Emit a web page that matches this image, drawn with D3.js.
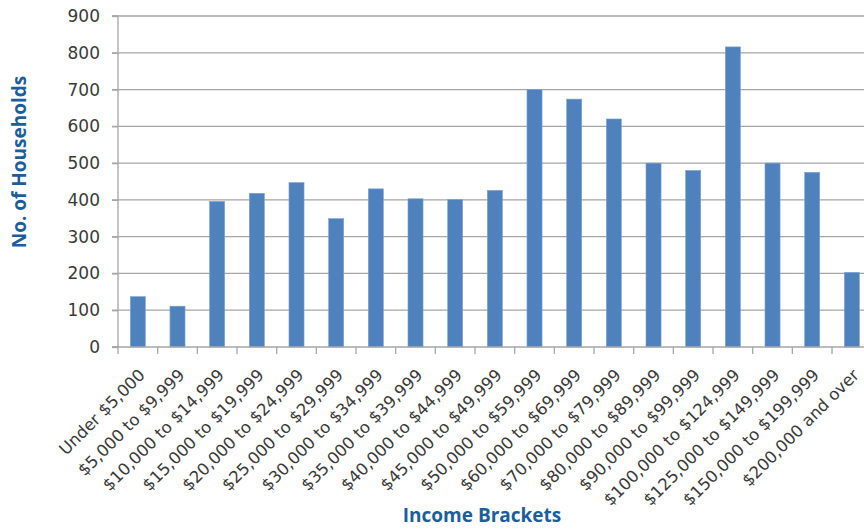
<!DOCTYPE html>
<html>
<head>
<meta charset="utf-8">
<script src="https://cdn.jsdelivr.net/npm/d3@7"></script>
<style>
  html, body { margin: 0; padding: 0; background: #fff; }
  svg { display: block; }
</style>
</head>
<body>
<svg id="chart" width="864" height="529"></svg>
<script>
const categories = [
  "Under $5,000", "$5,000 to $9,999", "$10,000 to $14,999", "$15,000 to $19,999",
  "$20,000 to $24,999", "$25,000 to $29,999", "$30,000 to $34,999", "$35,000 to $39,999",
  "$40,000 to $44,999", "$45,000 to $49,999", "$50,000 to $59,999", "$60,000 to $69,999",
  "$70,000 to $79,999", "$80,000 to $89,999", "$90,000 to $99,999", "$100,000 to $124,999",
  "$125,000 to $149,999", "$150,000 to $199,999", "$200,000 and over"
];
const households = [137, 111, 396, 418, 447, 349, 430, 403, 401, 426, 700, 674, 620, 500, 480, 816, 500, 475, 203];
const yTicks = [0, 100, 200, 300, 400, 500, 600, 700, 800, 900];
const xTitle = "Income Brackets";
const yTitle = "No. of Households";

(function () {
const svg = d3.select("#chart");
const pLeft = 118, pRight = 871.7, pTop = 16, pBottom = 347;
const W = 864;

const x = d3.scaleBand().domain(categories).range([pLeft, pRight])
  .paddingInner(0.62).paddingOuter(0.31);
const y = d3.scaleLinear().domain([0, 900]).range([pBottom, pTop]);

const gridColor = "#a6a6a6";
const textColor = "#3a3a3a";

// gridlines
svg.append("g").selectAll("line").data(yTicks.filter(d => d > 0)).join("line")
  .attr("x1", pLeft - 6).attr("x2", W)
  .attr("y1", d => y(d)).attr("y2", d => y(d))
  .attr("stroke", gridColor).attr("stroke-width", 1.3);

// bars
svg.append("g").selectAll("rect").data(households).join("rect")
  .attr("x", (d, i) => x(categories[i]))
  .attr("width", x.bandwidth())
  .attr("y", d => y(d))
  .attr("height", d => y(0) - y(d))
  .attr("fill", "#4f81bd")
  .attr("stroke", "#7fa5d6").attr("stroke-width", 0.6);

// y axis
const yAxis = d3.axisLeft(y).tickValues(yTicks).tickSize(6).tickPadding(12);
const gy = svg.append("g").attr("transform", `translate(${pLeft},0)`).call(yAxis);
gy.select(".domain").attr("stroke", gridColor).attr("stroke-width", 1.3).attr("d", `M-6,${pTop}H0V${pBottom}H-6`);
gy.selectAll(".tick line").attr("stroke", gridColor).attr("stroke-width", 1.3);
gy.selectAll(".tick text")
  .attr("fill", textColor)
  .style("font-family", "'DejaVu Sans', sans-serif")
  .style("font-size", "17px");

// x axis
const step = x.step();
const boundaries = d3.range(categories.length + 1).map(i => pLeft + i * step);
svg.append("line").attr("x1", pLeft - 6).attr("x2", W).attr("y1", pBottom).attr("y2", pBottom)
  .attr("stroke", gridColor).attr("stroke-width", 1.3);
svg.append("g").selectAll("line").data(boundaries).join("line")
  .attr("x1", d => d).attr("x2", d => d).attr("y1", pBottom).attr("y2", pBottom + 7)
  .attr("stroke", gridColor).attr("stroke-width", 1.3);

svg.append("g").selectAll("text").data(categories).join("text")
  .attr("transform", d => `translate(${x(d) + x.bandwidth() / 2 + 4},${pBottom + 25}) rotate(-45)`)
  .attr("text-anchor", "end")
  .attr("dy", "0.35em")
  .attr("fill", textColor)
  .style("font-family", "'DejaVu Sans', sans-serif")
  .style("font-size", "16.5px")
  .text(d => d);

// titles
svg.append("text")
  .attr("x", 482).attr("y", 522)
  .attr("text-anchor", "middle")
  .attr("fill", "#1b5e9e")
  .style("font-family", "'Open Sans', sans-serif")
  .style("font-weight", "700")
  .style("font-size", "19px")
  .text(xTitle);

svg.append("text")
  .attr("transform", "translate(26,162) rotate(-90)")
  .attr("text-anchor", "middle")
  .attr("fill", "#1b5e9e")
  .style("font-family", "'Open Sans', sans-serif")
  .style("font-weight", "700")
  .style("font-size", "19px")
  .text(yTitle);
})();
</script>
</body>
</html>
